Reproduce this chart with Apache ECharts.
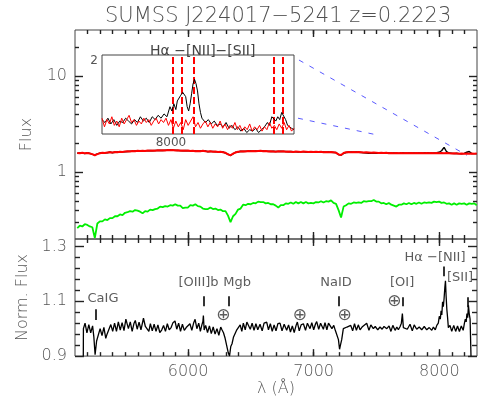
<!DOCTYPE html>
<html><head><meta charset="utf-8">
<script src="https://cdn.jsdelivr.net/npm/echarts@6/dist/echarts.min.js"></script>
<style>html,body{margin:0;padding:0;background:#fff}#c{width:479px;height:398px}</style>
</head><body><div id="c"></div>
<script>
const titleText = 'SUMSS J224017\u22125241 z=0.2223';
const insetTitle = 'H\u03b1 \u2212[NII]\u2212[SII]';
const xTickLabels = [6000, 7000, 8000];
const fluxTickLabels = [1, 10];
const fluxMinorTicks = [0.3,0.4,0.5,0.6,0.7,0.8,0.9,2,3,4,5,6,7,8,9,20];
const normTickLabels = [0.9, 1.1, 1.3];
const normMinorTicks = [0.94,0.98,1.02,1.06,1.14,1.18,1.22,1.26];
const insetXTick = [8000];
const insetYTick = [2];
const xMinorTicks = [];
for (let w = 5200; w <= 8200; w += 100) xMinorTicks.push(w);

// top panel spectra, sampled from 5118 Å every 20 Å
const specStart = 5118, specStep = 20;
const redFlux = [
1.57,1.56,1.58,1.56,1.57,1.55,1.53,1.49,1.53,1.56,
1.58,1.57,1.59,1.60,1.59,1.61,1.60,1.62,1.61,1.63,
1.64,1.63,1.65,1.64,1.66,1.65,1.66,1.65,1.67,1.66,
1.67,1.66,1.68,1.67,1.68,1.67,1.69,1.68,1.69,1.67,
1.68,1.66,1.67,1.66,1.67,1.65,1.66,1.64,1.65,1.64,
1.66,1.64,1.63,1.64,1.62,1.63,1.61,1.62,1.60,1.58,
1.52,1.49,1.55,1.59,1.62,1.63,1.64,1.63,1.65,1.64,
1.65,1.64,1.65,1.66,1.64,1.65,1.63,1.64,1.63,1.62,
1.64,1.63,1.64,1.62,1.63,1.62,1.61,1.63,1.62,1.61,
1.63,1.62,1.61,1.62,1.61,1.62,1.61,1.62,1.60,1.61,
1.60,1.61,1.60,1.58,1.52,1.50,1.57,1.60,1.61,1.60,
1.61,1.60,1.61,1.60,1.59,1.60,1.59,1.58,1.59,1.58,
1.57,1.58,1.57,1.58,1.56,1.57,1.56,1.57,1.56,1.57,
1.56,1.57,1.56,1.57,1.56,1.57,1.56,1.57,1.56,1.57,
1.56,1.57,1.56,1.57,1.56,1.57,1.56,1.57,1.56,1.55,
1.56,1.55,1.54,1.55,1.54,1.55,1.54,1.55,1.54,1.55];
const blackFlux = [
1.56,1.57,1.57,1.55,1.58,1.56,1.52,1.50,1.54,1.57,
1.57,1.58,1.58,1.61,1.58,1.60,1.61,1.61,1.62,1.62,
1.63,1.64,1.64,1.65,1.65,1.66,1.65,1.66,1.66,1.67,
1.66,1.67,1.67,1.68,1.67,1.68,1.68,1.69,1.68,1.68,
1.67,1.67,1.66,1.67,1.66,1.66,1.65,1.65,1.64,1.65,
1.65,1.65,1.62,1.63,1.63,1.62,1.62,1.61,1.61,1.57,
1.53,1.48,1.54,1.60,1.61,1.64,1.63,1.64,1.64,1.65,
1.64,1.65,1.64,1.65,1.65,1.64,1.64,1.63,1.64,1.63,
1.63,1.64,1.63,1.63,1.62,1.63,1.62,1.62,1.61,1.62,
1.62,1.61,1.62,1.61,1.62,1.61,1.61,1.61,1.61,1.60,
1.61,1.60,1.59,1.59,1.51,1.49,1.56,1.59,1.60,1.61,
1.60,1.61,1.60,1.59,1.58,1.57,1.56,1.57,1.56,1.57,
1.56,1.57,1.56,1.57,1.57,1.56,1.57,1.56,1.56,1.58,
1.57,1.56,1.57,1.56,1.57,1.56,1.57,1.56,1.57,1.58,
1.57,1.56,1.57,1.58,1.60,1.66,1.80,1.62,1.57,1.56,
1.55,1.56,1.55,1.54,1.56,1.60,1.63,1.55,1.55,1.54];
const greenFlux = [
0.26,0.275,0.27,0.285,0.28,0.27,0.265,0.205,0.29,0.305,
0.305,0.32,0.315,0.33,0.33,0.345,0.345,0.36,0.355,0.375,
0.38,0.39,0.385,0.40,0.395,0.385,0.37,0.39,0.385,0.405,
0.40,0.41,0.415,0.435,0.43,0.44,0.435,0.45,0.445,0.46,
0.445,0.445,0.42,0.425,0.425,0.45,0.445,0.46,0.44,0.435,
0.415,0.41,0.41,0.425,0.41,0.415,0.40,0.405,0.39,0.39,
0.35,0.30,0.345,0.365,0.405,0.415,0.455,0.45,0.465,0.46,
0.475,0.47,0.49,0.485,0.485,0.47,0.475,0.46,0.46,0.445,
0.425,0.45,0.45,0.47,0.465,0.48,0.465,0.485,0.47,0.485,
0.47,0.485,0.47,0.475,0.47,0.485,0.48,0.495,0.48,0.495,
0.49,0.505,0.475,0.465,0.40,0.335,0.435,0.45,0.47,0.465,
0.48,0.475,0.48,0.475,0.495,0.49,0.495,0.495,0.51,0.49,
0.49,0.47,0.475,0.46,0.475,0.455,0.445,0.435,0.455,0.455,
0.47,0.46,0.475,0.46,0.475,0.465,0.48,0.465,0.48,0.475,
0.48,0.475,0.49,0.485,0.49,0.475,0.48,0.465,0.47,0.455,
0.47,0.455,0.47,0.465,0.47,0.455,0.47,0.465,0.47,0.45];

// normalized spectrum [wavelength, norm flux]
const normSpec = [
[5166,0.885],[5167,1.0],[5180,1.02],[5195,0.985],[5210,1.015],[5225,0.985],[5240,1.01],[5250,0.97],[5260,0.905],[5272,0.955],
[5286,0.96],[5300,1.0],[5315,0.975],[5330,1.005],[5345,0.965],[5355,0.98],[5370,0.985],[5385,1.015],[5400,0.99],[5415,1.02],
[5430,0.99],[5445,1.025],[5460,0.995],[5475,1.022],[5490,0.993],[5505,1.035],[5512,1.042],[5525,1.0],[5540,1.025],[5555,0.99],
[5570,1.02],[5580,1.03],[5595,0.998],[5610,1.024],[5625,0.996],[5645,1.038],[5660,1.008],[5675,1.014],[5688,0.99],[5700,1.018],
[5715,0.992],[5730,1.016],[5745,0.99],[5760,1.014],[5775,0.986],[5790,0.995],[5805,1.012],[5820,0.99],[5835,1.018],[5850,0.996],
[5865,1.004],[5880,1.022],[5896,1.028],[5910,0.998],[5925,1.02],[5940,0.99],[5955,1.016],[5970,0.994],[5985,1.004],[6000,0.998],
[6015,1.018],[6030,0.994],[6045,1.022],[6056,1.034],[6070,1.0],[6085,1.02],[6098,0.99],[6110,1.014],[6118,1.026],[6122,1.048],
[6128,0.995],[6140,1.012],[6155,0.986],[6170,1.01],[6185,0.982],[6200,1.006],[6215,0.98],[6230,1.0],[6245,0.976],[6260,1.006],
[6270,0.996],[6282,0.985],[6295,0.965],[6308,0.96],[6320,0.912],[6330,0.9],[6340,0.935],[6350,0.945],[6362,0.97],[6375,0.968],
[6388,0.996],[6400,0.99],[6415,1.014],[6428,0.99],[6440,1.02],[6455,0.996],[6468,1.024],[6480,1.03],[6495,0.998],[6510,1.02],
[6525,0.994],[6540,1.018],[6555,0.996],[6573,1.016],[6590,0.992],[6605,1.02],[6626,1.024],[6640,0.996],[6655,1.018],[6670,0.99],
[6685,1.014],[6700,0.992],[6715,1.018],[6732,1.02],[6748,0.992],[6765,1.016],[6785,0.994],[6800,1.014],[6815,0.988],[6830,1.01],
[6845,0.986],[6860,1.012],[6870,1.024],[6885,0.992],[6900,1.014],[6918,1.018],[6935,0.994],[6950,1.02],[6971,1.0],[6985,1.022],
[7000,0.996],[7015,1.018],[7024,1.026],[7040,0.998],[7055,1.02],[7077,0.998],[7090,1.022],[7105,0.996],[7118,1.02],[7130,1.026],
[7145,1.0],[7160,1.012],[7172,0.994],[7185,0.992],[7197,0.96],[7206,0.925],[7213,0.94],[7223,0.96],[7236,1.0],[7250,0.998],
[7265,1.006],[7280,1.0],[7295,1.012],[7310,0.992],[7325,1.018],[7340,0.994],[7355,1.014],[7369,0.996],[7385,1.006],[7400,1.0],
[7422,1.02],[7440,0.994],[7455,1.014],[7475,1.0],[7490,1.008],[7510,0.996],[7528,1.006],[7545,0.998],[7560,1.008],[7582,1.0],
[7600,1.01],[7615,0.99],[7630,1.012],[7648,0.994],[7662,1.006],[7674,0.996],[7688,1.008],[7698,1.02],[7706,1.055],[7714,1.004],
[7727,1.01],[7745,0.998],[7767,1.016],[7785,0.992],[7800,1.014],[7820,0.998],[7840,1.006],[7860,0.996],[7880,1.008],[7900,0.996],
[7920,1.004],[7940,0.994],[7953,1.006],[7968,0.996],[7980,1.012],[7992,1.02],[8000,1.045],[8008,1.035],[8014,1.065],[8020,1.05],
[8026,1.098],[8032,1.08],[8038,1.11],[8044,1.15],[8049,1.175],[8054,1.12],[8060,1.07],[8066,1.04],[8072,1.004],[8085,1.012],
[8099,0.99],[8115,1.012],[8130,0.99],[8145,1.01],[8160,0.99],[8175,1.01],[8190,0.994],[8200,1.02],[8207,1.035],[8214,1.025],
[8220,1.055],[8226,1.04],[8232,1.085],[8238,1.055],[8245,1.035],[8252,1.03],[8253,0.885]];

// inset zoom around H-alpha
const insetBlack = [
[7860,1.55],[7866,1.53],[7872,1.56],[7878,1.52],[7884,1.55],[7890,1.51],[7896,1.54],[7902,1.53],[7908,1.56],[7914,1.54],
[7920,1.52],[7926,1.55],[7932,1.53],[7938,1.57],[7944,1.54],[7950,1.56],[7956,1.53],[7962,1.57],[7968,1.55],[7974,1.58],
[7980,1.56],[7986,1.59],[7992,1.57],[7998,1.64],[8002,1.61],[8006,1.66],[8010,1.62],[8013,1.68],[8016,1.67],[8020,1.72],
[8024,1.74],[8027,1.75],[8030,1.71],[8033,1.64],[8036,1.61],[8039,1.66],[8042,1.73],[8045,1.80],[8048,1.83],[8051,1.80],
[8054,1.75],[8057,1.66],[8060,1.60],[8063,1.56],[8067,1.55],[8070,1.53],[8076,1.55],[8082,1.52],[8088,1.54],[8094,1.51],
[8100,1.52],[8106,1.50],[8112,1.53],[8118,1.49],[8124,1.51],[8130,1.48],[8136,1.50],[8142,1.47],[8148,1.49],[8154,1.46],
[8160,1.48],[8166,1.47],[8172,1.49],[8178,1.46],[8184,1.48],[8190,1.50],[8196,1.53],[8200,1.51],[8205,1.57],[8209,1.58],
[8213,1.54],[8217,1.57],[8221,1.55],[8225,1.60],[8229,1.61],[8233,1.55],[8237,1.51],[8241,1.50],[8245,1.49],[8250,1.48]];
const insetRed = [
[7860,1.56],[7865,1.50],[7870,1.55],[7875,1.52],[7880,1.57],[7885,1.51],[7890,1.54],[7895,1.50],[7900,1.56],[7905,1.52],
[7910,1.55],[7915,1.58],[7920,1.53],[7925,1.55],[7930,1.51],[7935,1.54],[7940,1.52],[7945,1.56],[7950,1.53],[7955,1.55],
[7960,1.51],[7965,1.54],[7970,1.56],[7975,1.52],[7980,1.55],[7985,1.53],[7990,1.56],[7995,1.51],[8000,1.55],[8005,1.49],
[8010,1.54],[8015,1.50],[8020,1.53],[8025,1.48],[8030,1.55],[8035,1.51],[8040,1.54],[8045,1.57],[8050,1.50],[8055,1.53],
[8060,1.49],[8065,1.52],[8070,1.54],[8075,1.50],[8080,1.53],[8085,1.49],[8090,1.52],[8095,1.50],[8100,1.54],[8105,1.49],
[8110,1.52],[8115,1.48],[8120,1.51],[8125,1.49],[8130,1.53],[8135,1.48],[8140,1.51],[8145,1.47],[8150,1.50],[8155,1.48],
[8160,1.52],[8165,1.47],[8170,1.50],[8175,1.48],[8180,1.51],[8185,1.47],[8190,1.50],[8195,1.48],[8200,1.53],[8205,1.49],
[8210,1.51],[8215,1.48],[8220,1.52],[8225,1.49],[8230,1.53],[8235,1.48],[8240,1.51],[8245,1.47],[8250,1.49]];
const insetLineWaves = [8004, 8022, 8047, 8209, 8227];

// line identifications in the normalized panel (wavelength, tick bottom/top, label position)
const lineIds = [
  {name:'CaIG',  tick:[5265,1.032,1.071], text:[5323,1.111]},
  {name:'[OIII]b', tick:[6125,1.082,1.118], text:[6083,1.169]},
  {name:'Mgb',   tick:[6326,1.082,1.118], text:[6390,1.169]},
  {name:'NaID',  tick:[7202,1.082,1.118], text:[7178,1.169]},
  {name:'[OI]',  tick:[7706,1.082,1.115], text:[7704,1.169]},
  {name:'H\u03b1 \u2212[NII]', tick:[8032,1.191,1.227], text:[7966,1.258]},
  {name:'[SII]', tick:[8227,1.078,1.115], text:[8165,1.187]}
];
const telluric = [[6281,1.049],[6891,1.049],[7246,1.049],[7642,1.097]];
// zoom connector lines (data coords of the top panel)
const zoomLines = [[[6883,14.6],[8219,1.49]], [[6875,3.62],[7488,2.45]]];

const FONT = '"DejaVu Sans", sans-serif';
const AX = '#444', TXT = '#555';
const chart = echarts.init(document.getElementById('c'));
const plain = v => String(v);
const lbl = {color:TXT, fontFamily:FONT, fontSize:16, fontWeight:300};

// panel layout and ranges
const G0 = {left:75, top:30, width:402, height:209};
const G1 = {left:75, top:239, width:402, height:118};
const XR = [5100, 8300], FR = [0.2, 30], NR = [0.9, 1.327];
const aPerPx = (XR[1]-XR[0]) / G0.width;
const decPerPx = Math.log10(FR[1]/FR[0]) / G0.height;
const nPerPx = (NR[1]-NR[0]) / G1.height;

// box tick marks on all four sides, expressed through each panel's axis scales
function topTicks() {
  const segs = [];
  const addX = (v, len) => {
    const f = Math.pow(10, len*decPerPx);
    segs.push({coords:[[v, FR[0]], [v, FR[0]*f]]}, {coords:[[v, FR[1]], [v, FR[1]/f]]});
  };
  const addY = (v, len) => {
    segs.push({coords:[[XR[0], v], [XR[0]+len*aPerPx, v]]}, {coords:[[XR[1], v], [XR[1]-len*aPerPx, v]]});
  };
  xTickLabels.forEach(v => addX(v, 7)); xMinorTicks.forEach(v => addX(v, 4));
  fluxTickLabels.forEach(v => addY(v, 8)); fluxMinorTicks.forEach(v => addY(v, 4));
  return segs;
}
function botTicks() {
  const segs = [];
  const addX = (v, len) => {
    segs.push({coords:[[v, NR[0]], [v, NR[0]+len*nPerPx]]}, {coords:[[v, NR[1]], [v, NR[1]-len*nPerPx]]});
  };
  const addY = (v, len) => {
    segs.push({coords:[[XR[0], v], [XR[0]+len*aPerPx, v]]}, {coords:[[XR[1], v], [XR[1]-len*aPerPx, v]]});
  };
  xTickLabels.forEach(v => addX(v, 7)); xMinorTicks.forEach(v => addX(v, 4));
  normTickLabels.forEach(v => addY(v, 9)); normMinorTicks.forEach(v => addY(v, 5));
  return segs;
}

const option = {
  animation:false,
  backgroundColor:'#fff',
  title:[
    {text:titleText, left:100, top:1, textStyle:{color:'#505050', fontFamily:FONT, fontSize:21, fontWeight:300}},
    {text:insetTitle, left:145, top:39, textStyle:{color:'#444', fontFamily:FONT, fontSize:14, fontWeight:'normal'}}
  ],
  grid:[
    Object.assign({show:true, borderColor:AX, borderWidth:1}, G0),
    Object.assign({show:true, borderColor:AX, borderWidth:1}, G1),
    {left:102, top:55, width:192, height:79, show:true, borderColor:AX, borderWidth:1}
  ],
  xAxis:[
    {type:'value', gridIndex:0, min:XR[0], max:XR[1], splitLine:{show:false}, axisLine:{show:false, onZero:false}, axisTick:{show:false}, axisLabel:{show:false}},
    {type:'value', gridIndex:1, min:XR[0], max:XR[1], splitLine:{show:false}, axisLine:{show:false, onZero:false}, axisTick:{show:false},
      axisLabel:Object.assign({show:true, customValues:xTickLabels, formatter:plain, margin:8}, lbl),
      name:'\u03bb (\u00c5)', nameLocation:'middle', nameGap:15, nameTextStyle:lbl},
    {type:'value', gridIndex:2, min:7860, max:8250, splitLine:{show:false}, axisLine:{show:false, onZero:false},
     axisTick:{show:false}, axisLabel:{show:true, customValues:insetXTick, formatter:plain, margin:3, color:TXT, fontFamily:FONT, fontSize:12}}
  ],
  yAxis:[
    {type:'log', logBase:10, gridIndex:0, min:FR[0], max:FR[1], splitLine:{show:false}, axisLine:{show:false, onZero:false}, axisTick:{show:false}, minorTick:{show:false},
     axisLabel:Object.assign({show:true, customValues:fluxTickLabels, formatter:plain, margin:8}, lbl),
     name:'Flux', nameLocation:'middle', nameGap:40, nameTextStyle:lbl},
    {type:'value', gridIndex:1, min:NR[0], max:NR[1], splitLine:{show:false}, axisLine:{show:false, onZero:false}, axisTick:{show:false},
     axisLabel:Object.assign({show:true, customValues:normTickLabels, formatter:v=>v.toFixed(1), margin:8}, lbl),
     name:'Norm. Flux', nameLocation:'middle', nameGap:44, nameTextStyle:lbl},
    {type:'value', gridIndex:2, min:1.45, max:2.0, splitLine:{show:false}, axisLine:{show:false, onZero:false},
     axisTick:{show:false}, axisLabel:{show:true, customValues:insetYTick, formatter:plain, margin:4, color:TXT, fontFamily:FONT, fontSize:12, verticalAlign:'top'}}
  ],
  series:[
    {type:'line', xAxisIndex:0, yAxisIndex:0, showSymbol:false, silent:true,
     data: greenFlux.map((v,i)=>[specStart+specStep*i, v]), lineStyle:{color:'#00ee00', width:1.8}},
    {type:'line', xAxisIndex:0, yAxisIndex:0, showSymbol:false, silent:true,
     data: blackFlux.map((v,i)=>[specStart+specStep*i, v]), lineStyle:{color:'#000', width:1.4}},
    {type:'line', xAxisIndex:0, yAxisIndex:0, showSymbol:false, silent:true,
     data: redFlux.map((v,i)=>[specStart+specStep*i, v]), lineStyle:{color:'#ff0000', width:2}},
    {type:'lines', coordinateSystem:'cartesian2d', xAxisIndex:0, yAxisIndex:0, silent:true,
     data: zoomLines.map(c=>({coords:c})), lineStyle:{color:'#5a5aff', width:1, type:[5,7], opacity:1}},
    {type:'lines', coordinateSystem:'cartesian2d', xAxisIndex:0, yAxisIndex:0, silent:true, z:10, clip:false,
     data: topTicks(), lineStyle:{color:'#222', width:1.4, opacity:1, type:'solid'}},
    {type:'line', xAxisIndex:1, yAxisIndex:1, showSymbol:false, silent:true,
     data: normSpec, lineStyle:{color:'#000', width:1.3}},
    {type:'lines', coordinateSystem:'cartesian2d', xAxisIndex:1, yAxisIndex:1, silent:true,
     data: lineIds.map(d=>({coords:[[d.tick[0],d.tick[1]],[d.tick[0],d.tick[2]]]})), lineStyle:{color:'#000', width:1.6, opacity:1}},
    {type:'lines', coordinateSystem:'cartesian2d', xAxisIndex:1, yAxisIndex:1, silent:true, z:10, clip:false,
     data: botTicks(), lineStyle:{color:'#222', width:1.4, opacity:1, type:'solid'}},
    {type:'scatter', xAxisIndex:1, yAxisIndex:1, symbolSize:0, silent:true,
     data: lineIds.map(d=>({name:d.name, value:d.text})),
     label:{show:true, position:[0,0], align:'center', verticalAlign:'middle', formatter:'{b}', color:'#333', fontFamily:FONT, fontSize:13}},
    {type:'scatter', xAxisIndex:1, yAxisIndex:1, symbolSize:0, silent:true,
     data: telluric.map(p=>({value:p})),
     label:{show:true, position:[0,0], align:'center', verticalAlign:'middle', formatter:'\u2295', color:'#333', fontFamily:FONT, fontSize:17}},
    {type:'line', xAxisIndex:2, yAxisIndex:2, showSymbol:false, silent:true,
     data: insetBlack, lineStyle:{color:'#000', width:1}},
    {type:'line', xAxisIndex:2, yAxisIndex:2, showSymbol:false, silent:true,
     data: insetRed, lineStyle:{color:'#ff0000', width:1}},
    {type:'lines', coordinateSystem:'cartesian2d', xAxisIndex:2, yAxisIndex:2, silent:true,
     data: insetLineWaves.map(w=>({coords:[[w,1.45],[w,2.0]]})), lineStyle:{color:'#ff0000', width:2, type:[7,3], opacity:1}}
  ]
};
chart.setOption(option);
</script></body></html>
